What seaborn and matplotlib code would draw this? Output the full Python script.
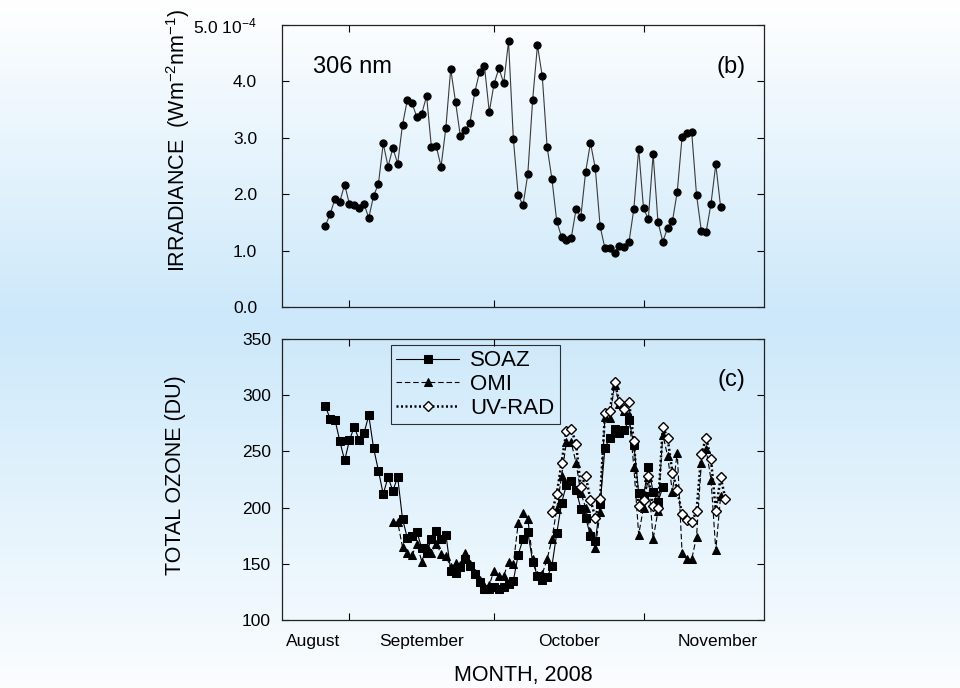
import numpy as np
import pandas as pd
import seaborn as sns
import matplotlib.pyplot as plt


# day of year 2008 (Sep 1 = 245, Oct 1 = 275, Nov 1 = 306)
irr_days = np.arange(240, 323)
irradiance = [1.44, 1.65, 1.92, 1.87, 2.17, 1.82, 1.81, 1.75, 1.83, 1.58,
              1.97, 2.18, 2.90, 2.49, 2.82, 2.54, 3.23, 3.67, 3.61, 3.36,
              3.43, 3.74, 2.83, 2.85, 2.49, 3.18, 4.22, 3.64, 3.03, 3.13,
              3.27, 3.81, 4.17, 4.27, 3.46, 3.96, 4.23, 3.97, 4.71, 2.98,
              1.99, 1.80, 2.36, 3.67, 4.64, 4.09, 2.84, 2.27, 1.52, 1.24,
              1.19, 1.22, 1.73, 1.60, 2.40, 2.91, 2.46, 1.43, 1.04, 1.04,
              0.96, 1.09, 1.06, 1.16, 1.74, 2.80, 1.75, 1.56, 2.71, 1.51,
              1.16, 1.40, 1.52, 2.04, 3.01, 3.08, 3.10, 1.99, 1.35, 1.33,
              1.83, 2.53, 1.77]

soaz_days = np.arange(240, 311)
soaz = [290, 279, 278, 259, 242, 260, 272, 260, 266, 282,
        253, 233, 212, 227, 215, 227, 190, 173, 175, 178,
        164, 160, 172, 179, 172, 176, 144, 142, 147, 154,
        148, 141, 134, 128, 128, 129, 128, 129, 132, 135,
        158, 172, 178, 152, 139, 136, 138, 148, 177, 204,
        220, 224, 216, 199, 191, 175, 170, 203, 253, 262,
        270, 266, 269, 278, 256, 213, 210, 236, 214, 205,
        218]

omi_days = np.arange(254, 323)
omi = [187, 187, 165, 160, 158, 168, 152, 165, 160, 168,
       159, 157, 147, 151, 149, 160, 150, 142, 136, 130,
       131, 144, 139, 139, 152, 150, 186, 195, 190, 154,
       140, 141, 154, 172, 199, 228, 258, 258, 240, 213,
       200, 178, 164, 196, 281, 280, 309, 292, 286, 282,
       236, 176, 200, 227, 172, 197, 265, 246, 214, 249,
       160, 154, 154, 174, 240, 252, 225, 162, 210]

uvrad_days = np.arange(287, 324)
uvrad = [196, 212, 240, 268, 270, 257, 218, 228, 207, 191,
         208, 284, 286, 312, 294, 288, 294, 259, 201, 207,
         228, 201, 200, 272, 262, 231, 216, 194, 189, 187,
         197, 248, 262, 243, 197, 227, 208]

month_bounds = [245, 275, 306]
month_centers = [237.5, 260, 290.5, 321.3]
month_names = ["August", "September", "October", "November"]

sns.set_style("ticks")
plt.rcParams['font.family'] = ['Liberation Sans', 'DejaVu Sans']
plt.rcParams['mathtext.default'] = 'regular'
plt.rcParams['text.color'] = 'black'
plt.rcParams['axes.labelcolor'] = 'black'

fig = plt.figure(figsize=(9.6, 6.88), dpi=100)

# white -> light blue -> white background
bg = fig.add_axes([0, 0, 1, 1], zorder=-10)
t = np.linspace(0, 1, 688)
w = np.interp(t, [0, 0.465, 1], [0, 1, 0.08])
white = np.array([1.0, 1.0, 1.0])
blue = np.array([204, 232, 250]) / 255
grad = white[None, :] * (1 - w[:, None]) + blue[None, :] * w[:, None]
bg.imshow(grad[:, None, :], aspect='auto', extent=[0, 1, 0, 1])
bg.set_axis_off()

ax1 = fig.add_axes([282 / 960, 1 - 307 / 688, 482 / 960, 282 / 688])
ax2 = fig.add_axes([282 / 960, 1 - 620 / 688, 482 / 960, 281 / 688])

# panel (b): irradiance
sns.lineplot(x=irr_days, y=irradiance, ax=ax1, color='#3a3a3a', linewidth=0.8,
             marker='o', markersize=5.2, markerfacecolor='black',
             markeredgecolor='black', estimator=None, sort=False)

ax1.set_ylim(0, 5)
ax1.set_yticks([0, 1, 2, 3, 4, 5])
ax1.set_yticklabels(["0.0", "1.0", "2.0", "3.0", "4.0", "5.0 10$^{-4}$"])
ax1.set_ylabel("IRRADIANCE  (Wm$^{-2}$nm$^{-1}$)", fontsize=15.5)
ax1.yaxis.set_label_coords(-0.186, 0.592)
ax1.text(0.064, 0.85, "306 nm", transform=ax1.transAxes, fontsize=17,
         ha='left', va='center')
ax1.text(0.961, 0.85, "(b)", transform=ax1.transAxes, fontsize=17,
         ha='right', va='center')

# panel (c): total ozone
sns.lineplot(x=soaz_days, y=soaz, ax=ax2, color='black', linewidth=0.8,
             marker='s', markersize=5.2, markeredgecolor='black',
             estimator=None, sort=False, label="SOAZ")
sns.lineplot(x=omi_days, y=omi, ax=ax2, color='black', linewidth=0.8,
             linestyle=(0, (5, 2.5)), marker='^', markersize=5.5,
             markeredgecolor='black', estimator=None, sort=False, label="OMI")
sns.lineplot(x=uvrad_days, y=uvrad, ax=ax2, color='black', linewidth=1.8,
             linestyle=(0, (0.8, 1.0)), marker='D', markersize=4.6,
             markerfacecolor='white', markeredgecolor='black',
             markeredgewidth=1.0, estimator=None, sort=False, label="UV-RAD")

ax2.set_ylim(100, 350)
ax2.set_yticks([100, 150, 200, 250, 300, 350])
ax2.set_ylabel("TOTAL OZONE (DU)", fontsize=15.5)
ax2.yaxis.set_label_coords(-0.199, 0.516)
ax2.text(0.961, 0.854, "(c)", transform=ax2.transAxes, fontsize=17,
         ha='right', va='center')

leg = ax2.legend(loc='upper left', bbox_to_anchor=(0.226, 0.979),
                 borderaxespad=0, fontsize=16, handlelength=2.8,
                 handletextpad=0.5, labelspacing=0.12, borderpad=0.25,
                 fancybox=False, frameon=True)
leg.get_frame().set_facecolor('none')
leg.get_frame().set_edgecolor('black')
leg.get_frame().set_linewidth(0.8)

for ax in (ax1, ax2):
    ax.set_facecolor('none')
    ax.set_xlim(231, 331)
    ax.set_xticks(month_bounds)
    ax.set_xticklabels([])
    ax.tick_params(axis='both', which='major', direction='in', length=5,
                   width=0.8, top=True, right=True, labelsize=12.5,
                   colors='black')
    for spine in ax.spines.values():
        spine.set_visible(True)
        spine.set_linewidth(0.9)
        spine.set_color('#222222')
    ax.set_xlabel("")

ax1.tick_params(axis='y', pad=18)
ax2.tick_params(axis='y', pad=8)

ax2.set_xticks(month_centers, minor=True)
ax2.set_xticklabels(month_names, minor=True)
ax2.tick_params(axis='x', which='minor', length=0, labelsize=12.5, pad=10,
                colors='black')

fig.text(523 / 960, 1 - 676 / 688, "MONTH, 2008", fontsize=15.5,
         ha='center', va='center')

fig.savefig("out.png", dpi=100)
